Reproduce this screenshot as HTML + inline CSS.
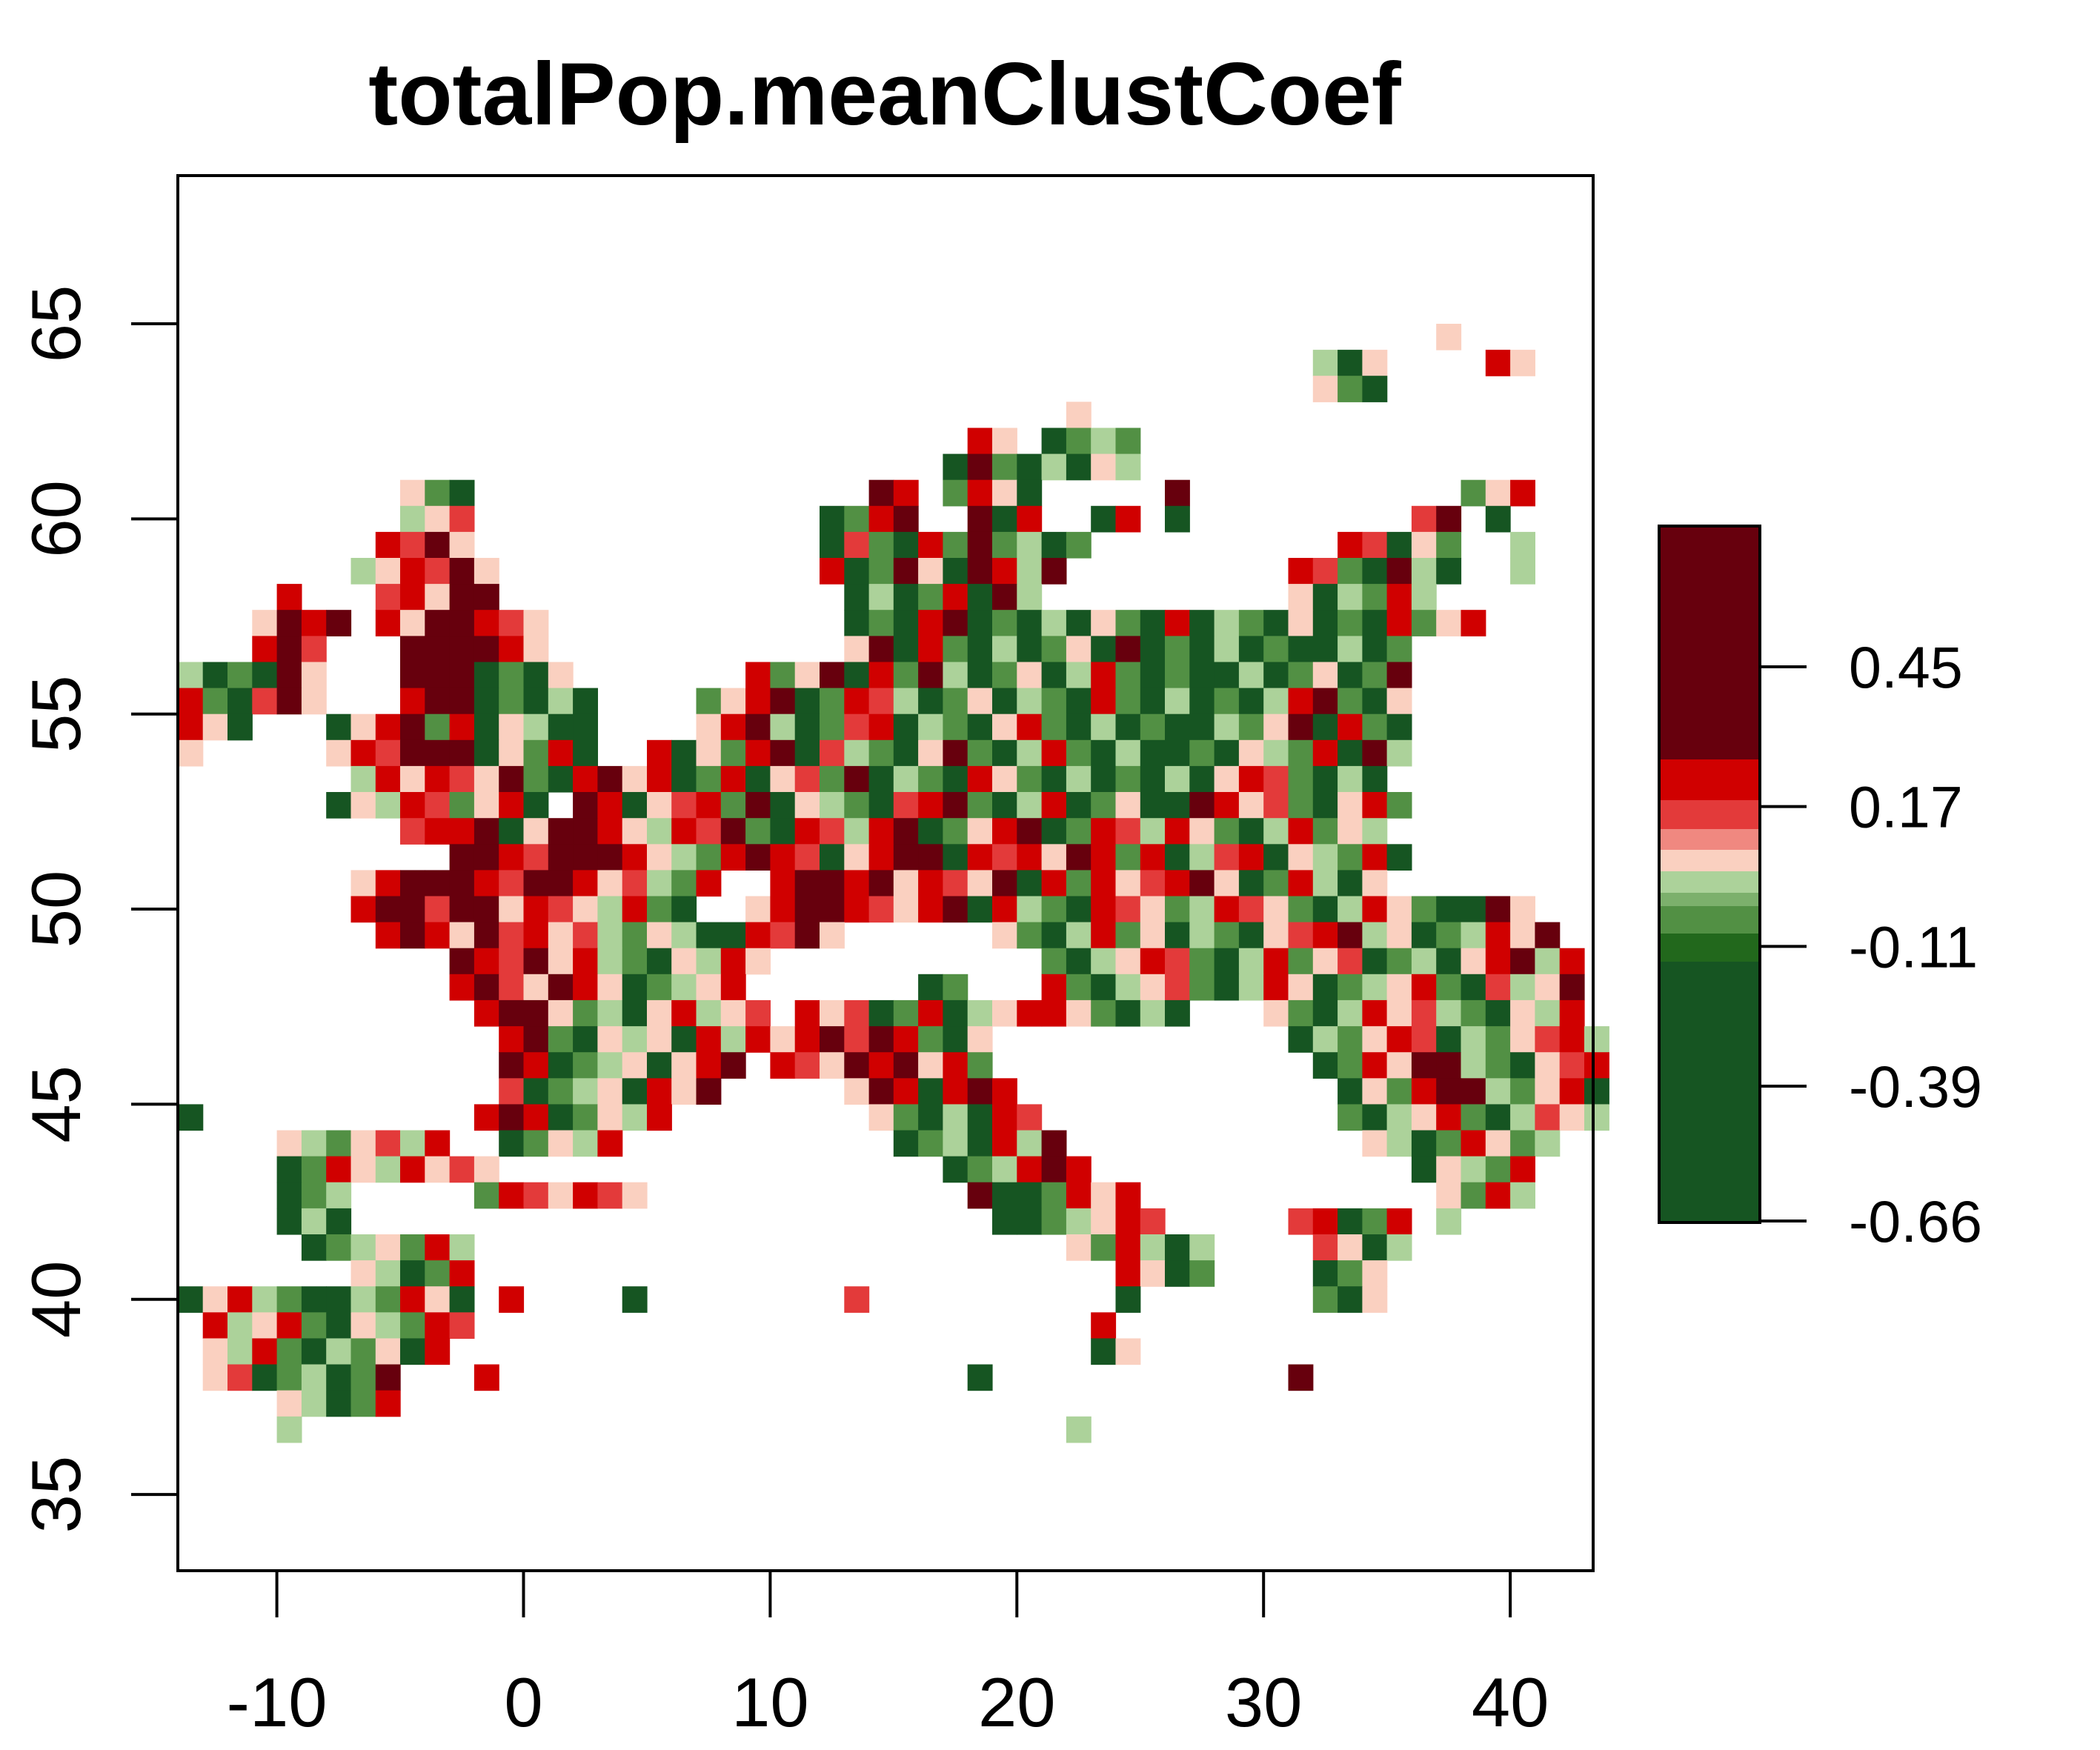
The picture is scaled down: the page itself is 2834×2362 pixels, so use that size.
<!DOCTYPE html>
<html><head><meta charset="utf-8"><style>
html,body{margin:0;padding:0;background:#fff}
svg{display:block}
text{font-family:"Liberation Sans",Arial,sans-serif;fill:#000}
</style></head><body>
<svg id="chart" width="2834" height="2362" viewBox="0 0 2834 2362" xmlns="http://www.w3.org/2000/svg">
<text x="1194" y="168" font-size="120" font-weight="bold" text-anchor="middle">totalPop.meanClustCoef</text>
<g id="cells"></g>
<rect x="240" y="237" width="1910" height="1883" fill="none" stroke="#000" stroke-width="4"/>
<g id="axes"></g>
<g id="legend"></g>
</svg>
<script>
const xTicks = [-10, 0, 10, 20, 30, 40];
const yTicks = [35, 40, 45, 50, 55, 60, 65];
const legendTicks = [0.45, 0.17, -0.11, -0.39, -0.66];
const legendColors = ["#67000d","#d00000","#e33a3a","#f08880","#fad0c0","#acd29a","#7cb06c","#529044","#22681c","#165522"];
const legendBreaks = [710,1025,1080,1119,1147,1176,1205,1223,1260,1298,1650];
const codeColors = {A:"#67000d",B:"#d00000",C:"#e33a3a",D:"#fad0c0",E:"#acd29a",F:"#529044",G:"#165522"};
const lonStart = -14, latTop = 65, cellLon = 1, cellLat = 2/3;
const rows = [
[[51,"D"]],
[[46,"EGD"],[53,"BD"]],
[[46,"DFG"]],
[[36,"D"]],
[[32,"BD"],[35,"GFE"],[38,"F"]],
[[31,"GAFGEG"],[37,"DE"]],
[[9,"DFG"],[28,"AB"],[31,"FBDG"],[40,"A"],[52,"FDB"]],
[[9,"EDC"],[26,"GFBA"],[32,"AGB"],[37,"GB"],[40,"G"],[50,"CA"],[53,"G"]],
[[8,"BCAD"],[26,"GCFGBF"],[32,"AFEGF"],[47,"BCGDF"],[54,"E"]],
[[7,"EDBCAD"],[26,"BGFADG"],[32,"ABEA"],[45,"BCFGAEG"],[54,"E"]],
[[4,"B"],[8,"CBDAA"],[27,"GEGFBGA"],[34,"E"],[45,"DGEFBE"]],
[[3,"DABA"],[8,"BDAABCD"],[27,"GFGBAGFGEGDFGBGEFGDGFGBF"],[51,"DB"]],
[[3,"BAC"],[9,"AAAABD"],[27,"DAGBFGEGFDGAGFGEGFGGEGF"]],
[[0,"EGFGAD"],[9,"AAAGFGD"],[23,"BFDAGBFAEGFDGEBFGFGGEGFDGFA"]],
[[0,"BFGCAD"],[9,"BAAGFGEG"],[21,"FDBAGFBCEGFDGEFGBFGEGFGEBAFGD"]],
[[0,"BDG"],[6,"GDBAFBGDEGG"],[21,"DBAEGFCBGEFGDBFGEGFGGEFDAGBFG"]],
[[0,"D"],[6,"DBCAAAGDFBG"],[19,"BGDFBAGCEFGDAFGEBFGEGGFGDEFBGAE"]],
[[7,"EBDBCDAFG"],[16,"BADBGFBGDCFAGEFGBDFGEGFGEGDBCFGEG"]],
[[6,"GDEBCFDBG"],[16,"ABGDCBFAGDEFGCBAFGEBGFDGGABDCFGDBF"]],
[[9,"CBBAGDAAB"],[18,"DEBCAFGBCEBAGFDBAGFBCEBDFGEBFDE"]],
[[11,"AABCAAAB"],[19,"DEFBABCGDBAAGBCBDABFBGECBGDEFBG"]],
[[7,"DBAAABCAABDCEFB"],[24,"BAABADBCDAGBFBDCBADGFBEGD"]],
[[7,"BAACAADBCDEBFG"],[23,"DBAABCDBAGBEFGBCDFEBCDFGEBDFGE"],[52,"GAD"]],
[[8,"BABDACBDCEFDEG"],[22,"GBCAD"],[33,"DFGEBFDGEFGDCBAEDGFEBD"],[55,"A"]],
[[11,"ABCADBEFGDEBD"],[35,"FGEDBCFGEBFDCGFEGDBAEB"]],
[[11,"BACDABDGFEDB"],[30,"GF"],[35,"BFGEDCFGEBDGFEDBFGCEDA"]],
[[12,"BAADFEGDBEDC"],[25,"BDCGFBGEDB"],[35,"BDFGEG"],[44,"DFGEBDCEFGDEB"]],
[[13,"BAFGDEDGBEB"],[24,"DBACABFGD"],[45,"GEFDBCGEFDCBE"]],
[[13,"ABGFEDGDBA"],[24,"BCDABADBF"],[46,"GFBDAAEFGDCB"]],
[[13,"CGFEDGBDA"],[27,"DABGBAB"],[47,"GDFBAAEFDBG"]],
[[0,"G"],[12,"BABGFDEB"],[28,"DFGEGBC"],[47,"FGEDBFGECDE"]],
[[4,"DEFDCEB"],[13,"GFDEB"],[29,"GFEGBEA"],[48,"DEGFBDFE"]],
[[4,"GFBDEBDCD"],[31,"GFEBAB"],[50,"GDEFB"]],
[[4,"GFE"],[12,"FBCDBCD"],[32,"AGGFBDB"],[51,"DFBE"]],
[[4,"GEG"],[33,"GGFEDBC"],[45,"CBGFB"],[51,"E"]],
[[5,"GFEDFBE"],[36,"DFBEGE"],[46,"CDGE"]],
[[7,"DEGFB"],[38,"BDGF"],[46,"GFD"]],
[[0,"GDBEFGGEFBDG"],[13,"B"],[18,"G"],[27,"C"],[38,"G"],[46,"FGD"]],
[[1,"BEDBFGDEFBC"],[37,"B"]],
[[1,"DEBFGEFDGB"],[37,"GD"]],
[[1,"DCGFEGFA"],[12,"B"],[32,"G"],[45,"A"]],
[[4,"DEGFB"]],
[[4,"E"],[36,"E"]]
];
const NS="http://www.w3.org/2000/svg";
const xPx = lon => 706.5 + lon*33.29;
const yPx = lat => 437 + (65-lat)*52.67;
const cells=document.getElementById('cells');
rows.forEach((segs,r)=>{
  const latT = latTop - r*cellLat;
  segs.forEach(([c0,codes])=>{
    for(let i=0;i<codes.length;i++){
      const col=codeColors[codes[i]]; if(!col) continue;
      const lon=lonStart+c0+i;
      const el=document.createElementNS(NS,'rect');
      
      
      const x0=xPx(lon), x1=xPx(lon+cellLon), y0=yPx(latT), y1=yPx(latT-cellLat);
      el.setAttribute('x',x0.toFixed(1));el.setAttribute('y',y0.toFixed(1));
      el.setAttribute('width',(x1-x0+0.6).toFixed(1));el.setAttribute('height',(y1-y0+0.6).toFixed(1));
      el.setAttribute('fill',col);
      cells.appendChild(el);
    }
  });
});
const axes=document.getElementById('axes');
function line(g,x1,y1,x2,y2,name){const l=document.createElementNS(NS,'line');


l.setAttribute('x1',x1);l.setAttribute('y1',y1);l.setAttribute('x2',x2);l.setAttribute('y2',y2);l.setAttribute('stroke','#000');l.setAttribute('stroke-width','4');g.appendChild(l);}
function txt(g,x,y,s,size,name,anchor,rot){const t=document.createElementNS(NS,'text');


t.setAttribute('x',x);t.setAttribute('y',y);t.setAttribute('font-size',size);t.setAttribute('text-anchor',anchor);
if(rot)t.setAttribute('transform',`rotate(-90 ${x} ${y})`);t.textContent=s;g.appendChild(t);}
line(axes,xPx(xTicks[0]),2120,xPx(xTicks[xTicks.length-1]),2120,'x-axis-line');
xTicks.forEach(v=>{line(axes,xPx(v),2120,xPx(v),2183,'x-tick');txt(axes,xPx(v),2330,String(v),94,'x-tick-label','middle');});
line(axes,240,yPx(yTicks[0]),240,yPx(yTicks[yTicks.length-1]),'y-axis-line');
yTicks.forEach(v=>{line(axes,240,yPx(v),177,yPx(v),'y-tick');txt(axes,108,yPx(v),String(v),94,'y-tick-label','middle',true);});
const lg=document.getElementById('legend');
legendColors.forEach((c,i)=>{const r=document.createElementNS(NS,'rect');


r.setAttribute('x',2239);r.setAttribute('y',legendBreaks[i]);r.setAttribute('width',136);r.setAttribute('height',legendBreaks[i+1]-legendBreaks[i]+0.5);r.setAttribute('fill',c);lg.appendChild(r);});
const fr=document.createElementNS(NS,'rect');


fr.setAttribute('x',2239);fr.setAttribute('y',710);fr.setAttribute('width',136);fr.setAttribute('height',940);fr.setAttribute('fill','none');fr.setAttribute('stroke','#000');fr.setAttribute('stroke-width','4');lg.appendChild(fr);
const lgY = v => 900 + (0.45 - v)/(0.45+0.66)*(1648-900);
legendTicks.forEach(v=>{line(lg,2375,lgY(v),2438,lgY(v),'legend-tick');txt(lg,2495,lgY(v)+28,v.toFixed(2),79,'legend-tick-label','start');});
</script>
</body></html>
